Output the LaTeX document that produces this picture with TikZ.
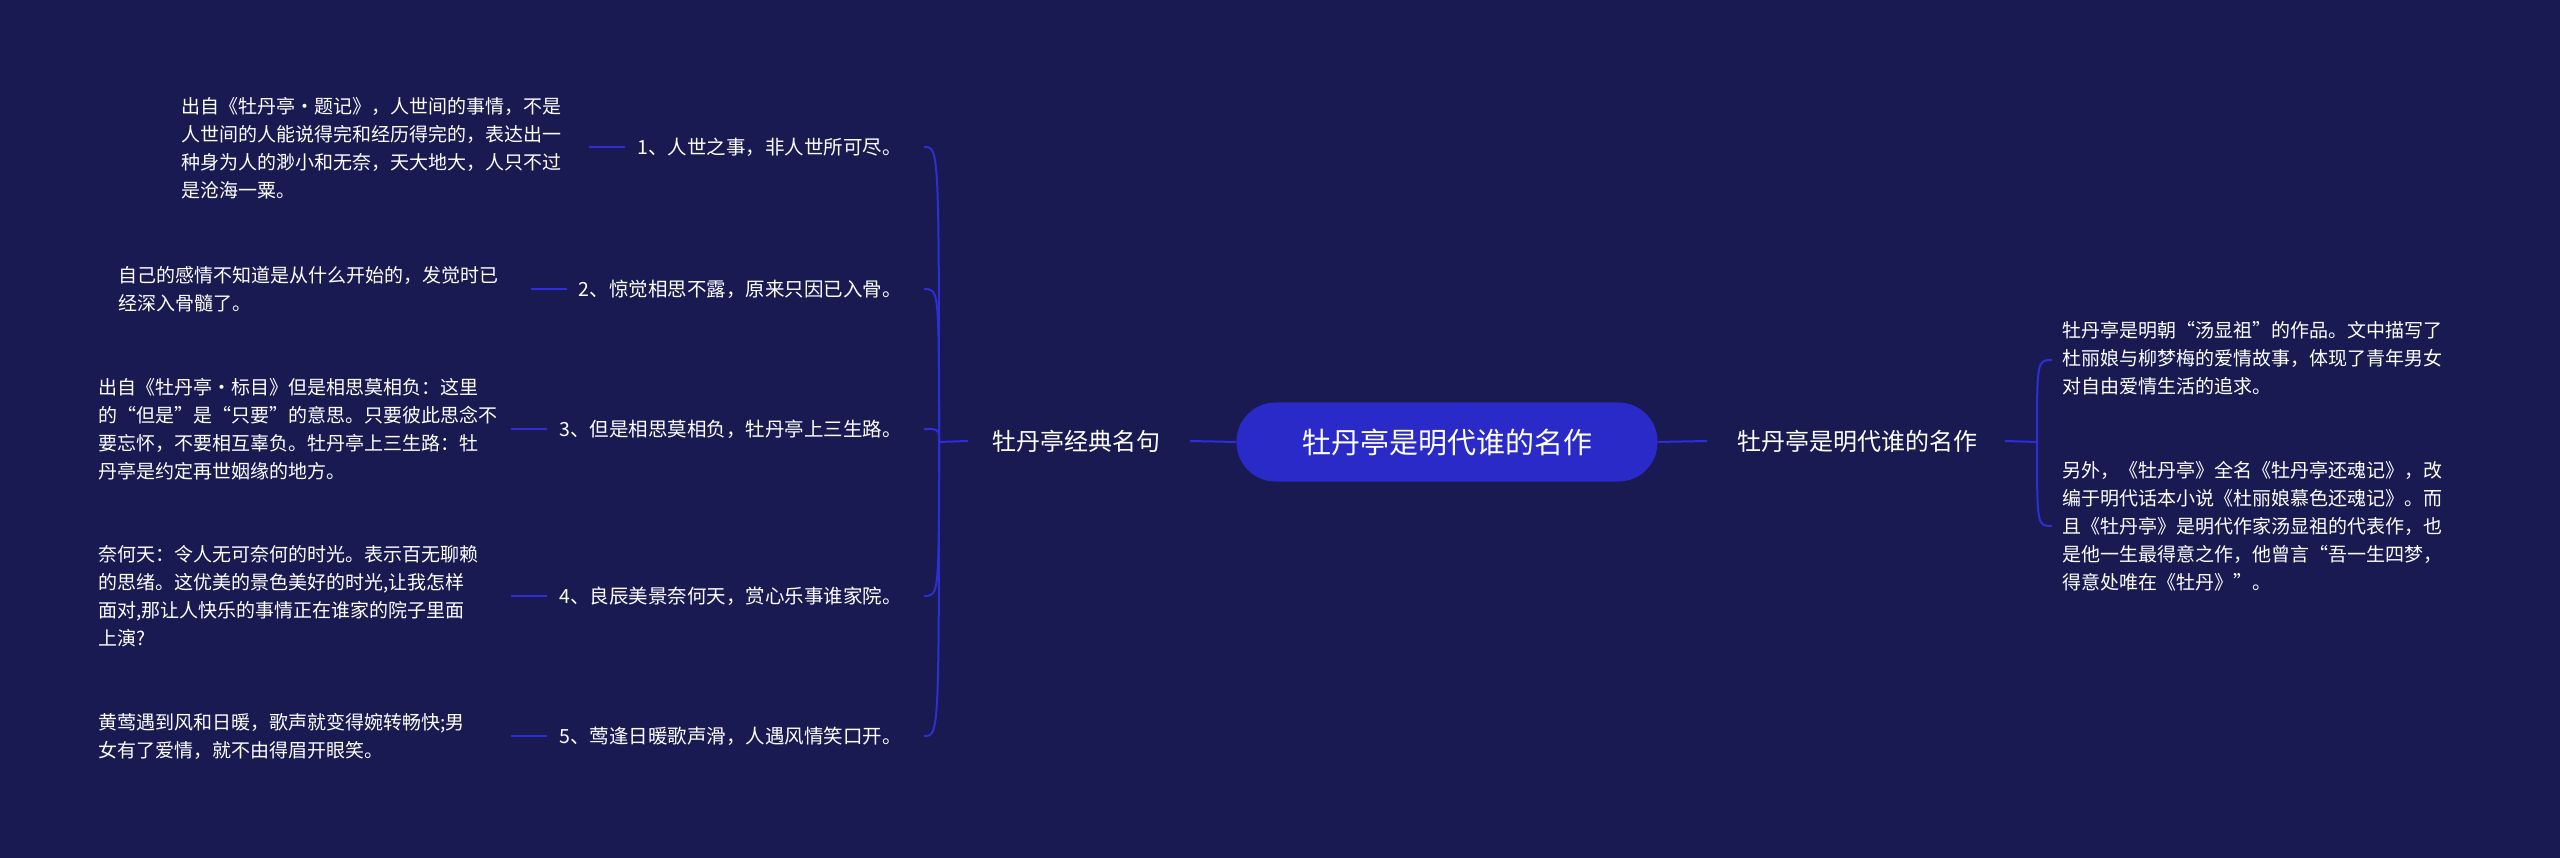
\documentclass[tikz,border=0pt]{standalone}
\usepackage{fontspec}
\setmainfont{Noto Sans CJK SC}
\definecolor{bg}{HTML}{1A1A52}
\definecolor{ln}{HTML}{2E2ED2}
\definecolor{rootc}{HTML}{2A2AC8}
\begin{document}
\begin{tikzpicture}[x=1pt,y=-1pt,
  link/.style={draw=ln,line width=2pt},
  desc/.style={text=white,font=\fontsize{19}{28}\selectfont,align=left,inner sep=0pt,anchor=west},
  item/.style={text=white,font=\fontsize{19.5}{26}\selectfont,inner sep=0pt,anchor=east},
  mainn/.style={text=white,font=\fontsize{24}{28}\selectfont,inner sep=0pt}]
\fill[bg] (0,0) rectangle (2560,858);
\useasboundingbox (0,0) rectangle (2560,858);
\node[fill=rootc,rounded corners=39pt,minimum width=421pt,minimum height=79pt,text=white,font=\fontsize{29}{34}\selectfont] (root) at (1447,442) {牡丹亭是明代谁的名作};
\node[mainn] (L) at (1076,441) {牡丹亭经典名句};
\node[mainn] (R) at (1857,441) {牡丹亭是明代谁的名作};
\draw[link] (root.west) -- ([xshift=30pt]L.east);
\draw[link] (root.east) -- ([xshift=-30pt]R.west);
\coordinate (J) at (939,442);
\coordinate (K) at (2037,442);
\draw[link] ([xshift=-24pt]L.west) -- (J);
\draw[link] ([xshift=28pt]R.east) -- (K);
% left items
\node[item] (i1) at (902,147) {1、人世之事，非人世所可尽。};
\node[item] (i2) at (902,289) {2、惊觉相思不露，原来只因已入骨。};
\node[item] (i3) at (902,429) {3、但是相思莫相负，牡丹亭上三生路。};
\node[item] (i4) at (902,596) {4、良辰美景奈何天，赏心乐事谁家院。};
\node[item] (i5) at (902,736) {5、莺逢日暖歌声滑，人遇风情笑口开。};
\foreach \i in {1,...,5}{\draw[link] (J) .. controls (J|-i\i.east) .. ([xshift=22pt]i\i.east);}
\node[desc] (d1) at (181,148) {出自《牡丹亭·题记》，人世间的事情，不是\\人世间的人能说得完和经历得完的，表达出一\\种身为人的渺小和无奈，天大地大，人只不过\\是沧海一粟。};
\node[desc] (d2) at (118,289) {自己的感情不知道是从什么开始的，发觉时已\\经深入骨髓了。};
\node[desc] (d3) at (98,429) {出自《牡丹亭·标目》但是相思莫相负：这里\\的“但是”是“只要”的意思。只要彼此思念不\\要忘怀，不要相互辜负。牡丹亭上三生路：牡\\丹亭是约定再世姻缘的地方。};
\node[desc] (d4) at (98,596) {奈何天：令人无可奈何的时光。表示百无聊赖\\的思绪。这优美的景色美好的时光,让我怎样\\面对,那让人快乐的事情正在谁家的院子里面\\上演?};
\node[desc] (d5) at (98,736) {黄莺遇到风和日暖，歌声就变得婉转畅快;男\\女有了爱情，就不由得眉开眼笑。};
\foreach \i in {1,...,5}{\draw[link] ([xshift=-48pt]i\i.west) -- ([xshift=-12pt]i\i.west);}
% right
\node[desc] (r1) at (2062,358) {牡丹亭是明朝“汤显祖”的作品。文中描写了\\杜丽娘与柳梦梅的爱情故事，体现了青年男女\\对自由爱情生活的追求。};
\node[desc] (r2) at (2062,526) {另外，《牡丹亭》全名《牡丹亭还魂记》，改\\编于明代话本小说《杜丽娘慕色还魂记》。而\\且《牡丹亭》是明代作家汤显祖的代表作，也\\是他一生最得意之作，他曾言“吾一生四梦，\\得意处唯在《牡丹》”。};
\coordinate (ra) at (2052,360);
\coordinate (rb) at (2052,526);
\draw[link] (K) .. controls (K|-ra) .. (ra);
\draw[link] (K) .. controls (K|-rb) .. (rb);
\end{tikzpicture}
\end{document}
